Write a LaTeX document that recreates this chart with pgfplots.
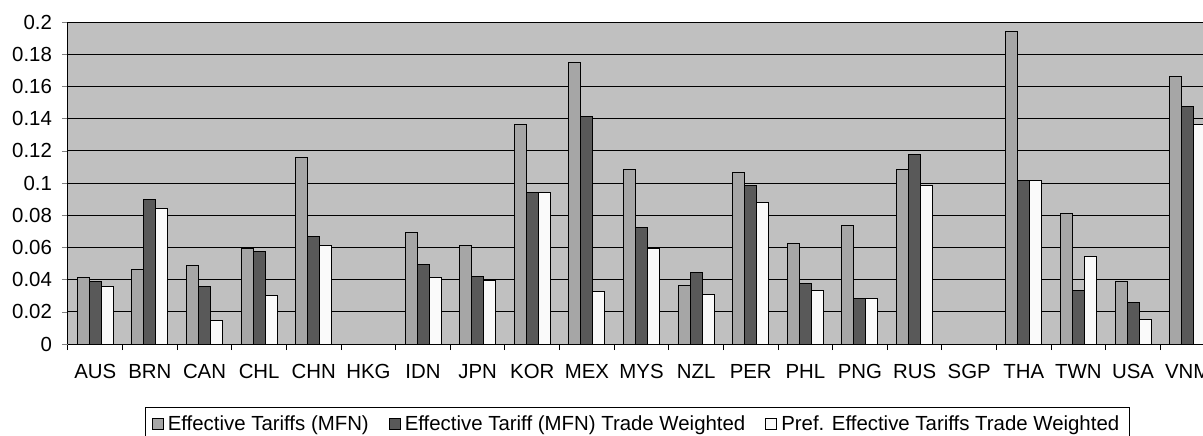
\documentclass[border=0pt]{standalone}
\usepackage{fontspec}
\setmainfont{Liberation Sans}
\usepackage{pgfplots}
\pgfplotsset{compat=1.18}
\definecolor{bgc}{HTML}{C0C0C0}
\definecolor{barA}{HTML}{A6A6A6}
\definecolor{barB}{HTML}{595959}
\definecolor{barC}{HTML}{FAFAFA}
\begin{document}
\begin{tikzpicture}
\begin{axis}[
  scale only axis,
  width=573.5pt, height=161pt,
  xmin=-0.5, xmax=20.5,
  ymin=0, ymax=0.2,
  axis background/.style={fill=bgc},
  axis x line*=bottom, axis y line*=left,
  axis line style={black, line width=0.5pt},
  ybar=0pt, bar width=6pt,
  xtick={0,...,20},
  xticklabels={AUS,BRN,CAN,CHL,CHN,HKG,IDN,JPN,KOR,MEX,MYS,NZL,PER,PHL,PNG,RUS,SGP,THA,TWN,USA,VNM},
  minor xtick={-0.5,0.5,...,20.5},
  major x tick style={draw=none},
  minor x tick style={black, line width=0.5pt},
  minor tick length=3pt, major tick length=3pt,
  tick align=outside,
  ytick={0,0.02,...,0.2001},
  scaled y ticks=false,
  yticklabel style={/pgf/number format/fixed, /pgf/number format/precision=2, xshift=-1.5pt},
  /pgf/number format/assume math mode=true,
  ymajorgrids,
  major grid style={black, line width=0.45pt},
  tick label style={font=\fontsize{10.2}{12}\selectfont},
  xticklabel style={yshift=-3.5pt},
  legend style={at={(0.4965,-0.1957)}, anchor=north, legend columns=-1,
    draw=black, line width=0.5pt, fill=white, font=\fontsize{10.2}{12}\selectfont,
    /tikz/every even column/.append style={column sep=8pt}},
  legend image code/.code={\draw[#1, line width=0.5pt] (0pt,-2.75pt) rectangle (5.5pt,2.75pt);},
  every axis plot/.append style={draw=black, line width=0.5pt},
]
\addplot[fill=barA] coordinates {
(0,0.0416) (1,0.0465) (2,0.0488) (3,0.0596) (4,0.1156)
(6,0.0693) (7,0.0610) (8,0.1361) (9,0.1747) (10,0.1082) (11,0.0364)
(12,0.1067) (13,0.0625) (14,0.0738) (15,0.1082) (17,0.1940) (18,0.0813)
(19,0.0387) (20,0.1661)};
\addplot[fill=barB] coordinates {
(0,0.0389) (1,0.0895) (2,0.0358) (3,0.0577) (4,0.0666)
(6,0.0494) (7,0.0422) (8,0.0943) (9,0.1410) (10,0.0724) (11,0.0445)
(12,0.0984) (13,0.0378) (14,0.0283) (15,0.1175) (17,0.1015) (18,0.0331)
(19,0.0259) (20,0.1475)};
\addplot[fill=barC] coordinates {
(0,0.0358) (1,0.0840) (2,0.0145) (3,0.0300) (4,0.0610)
(6,0.0414) (7,0.0397) (8,0.0943) (9,0.0325) (10,0.0594) (11,0.0308)
(12,0.0879) (13,0.0331) (14,0.0283) (15,0.0984) (17,0.1015) (18,0.0544)
(19,0.0151) (20,0.1361)};
\legend{Effective Tariffs (MFN),Effective Tariff (MFN) Trade Weighted,Pref. Effective Tariffs Trade Weighted}
\end{axis}
\pgfresetboundingbox
\path[use as bounding box] ([xshift=-34pt,yshift=-45.5pt]current axis.south west) rectangle ([xshift=567.5pt,yshift=172pt]current axis.south west);
\end{tikzpicture}
\end{document}
